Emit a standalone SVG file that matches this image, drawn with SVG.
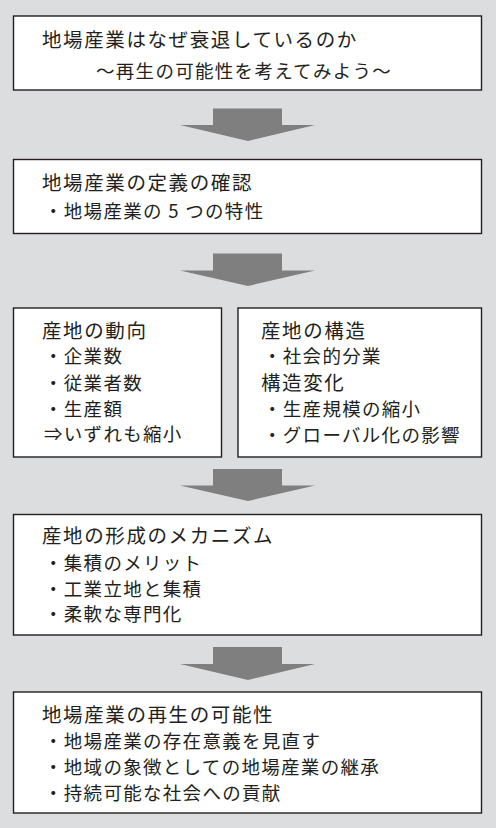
<svg xmlns="http://www.w3.org/2000/svg" width="496" height="828" viewBox="0 0 496 828">
<defs>
<style>
.box{fill:#ffffff;stroke:#231f20;stroke-width:1.4}
.arr{fill:#7f7f7f}
text{font-family:"Noto Sans CJK JP","Noto Sans",sans-serif;fill:#231f20}
.t{font-size:19.5px;letter-spacing:1.6px}
.b{font-size:18.5px;letter-spacing:1.3px}
</style>
</defs>
<rect x="0" y="0" width="496" height="828" fill="#dcdddf"/>
<g id="connectors">
<path class="arr" d="M213,108.5 H282 V125 H315 L248,141 L180,125 H213 Z"/>
<path class="arr" d="M213,253.5 H282 V270.5 H315 L248,286 L180,270.5 H213 Z"/>
<path class="arr" d="M213,469 H282 V485.5 H315 L248,501 L180,485.5 H213 Z"/>
<path class="arr" d="M213,647 H282 V664 H315 L248,680 L180,664 H213 Z"/>
</g>
<g id="node1">
<rect class="box" x="13.5" y="16" width="468" height="74"/>
<text class="t" x="42" y="47">地場産業はなぜ衰退しているのか</text>
<text class="b" x="96" y="78" letter-spacing="1">～再生の可能性を考えてみよう～</text>
</g>
<g id="node2">
<rect class="box" x="13.5" y="159.5" width="468" height="74"/>
<text class="t" x="42" y="190">地場産業の定義の確認</text>
<text class="b" x="44" y="218">・地場産業の 5 つの特性</text>
</g>
<g id="node3a">
<rect class="box" x="13.5" y="308" width="208" height="149"/>
<text class="t" x="42" y="338">産地の動向</text>
<text class="b" x="44" y="363">・企業数</text>
<text class="b" x="44" y="390">・従業者数</text>
<text class="b" x="44" y="416">・生産額</text>
<text class="b" x="44" y="441">⇒いずれも縮小</text>
</g>
<g id="node3b">
<rect class="box" x="238" y="308" width="243.5" height="149"/>
<text class="t" x="261" y="338">産地の構造</text>
<text class="b" x="263" y="363">・社会的分業</text>
<text class="t" x="261" y="390">構造変化</text>
<text class="b" x="263" y="416">・生産規模の縮小</text>
<text class="b" x="263" y="442">・グローバル化の影響</text>
</g>
<g id="node4">
<rect class="box" x="13.5" y="514.5" width="468" height="120.5"/>
<text class="t" x="42" y="543">産地の形成のメカニズム</text>
<text class="b" x="44" y="570">・集積のメリット</text>
<text class="b" x="44" y="596">・工業立地と集積</text>
<text class="b" x="44" y="621">・柔軟な専門化</text>
</g>
<g id="node5">
<rect class="box" x="13.5" y="692" width="468" height="121"/>
<text class="t" x="42" y="722">地場産業の再生の可能性</text>
<text class="b" x="44" y="748">・地場産業の存在意義を見直す</text>
<text class="b" x="44" y="774">・地域の象徴としての地場産業の継承</text>
<text class="b" x="44" y="800">・持続可能な社会への貢献</text>
</g>
</svg>
